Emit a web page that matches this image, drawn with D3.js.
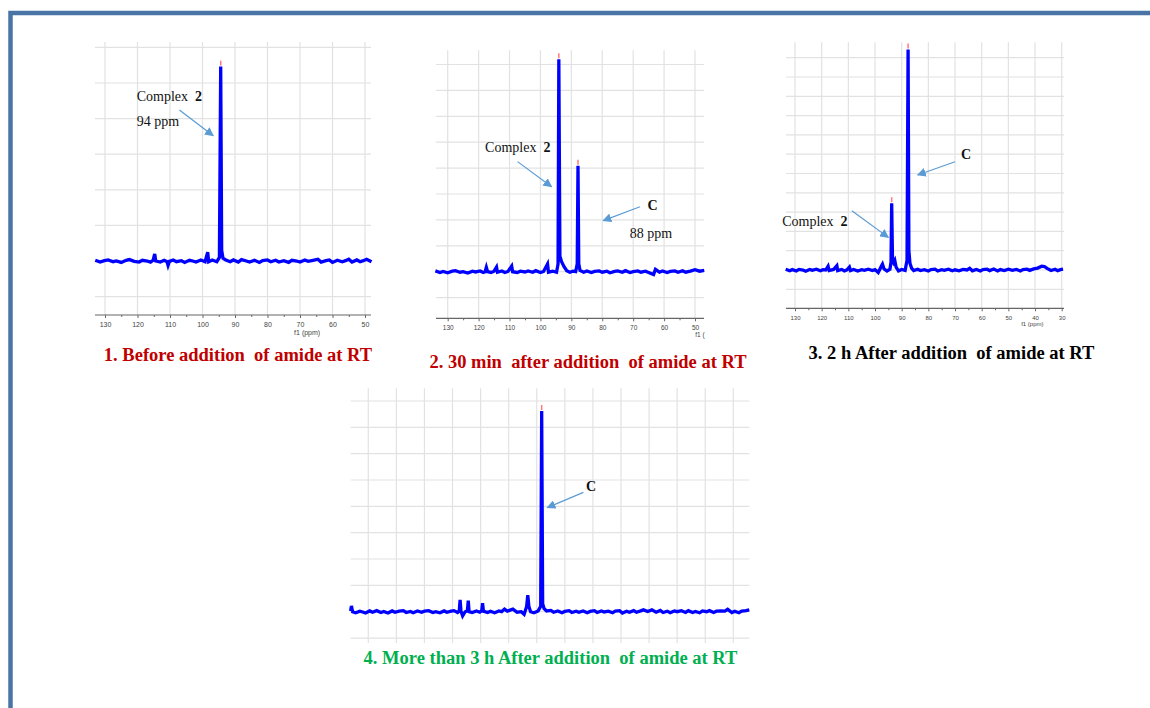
<!DOCTYPE html>
<html>
<head>
<meta charset="utf-8">
<script src="https://cdn.jsdelivr.net/npm/d3@7"></script>
<style>
  body { margin: 0; background: #fff; }
  svg text { white-space: pre; }
</style>
</head>
<body>
<div id="chart"></div>
<script>
// spectra: [ppm, intensity] , intensity in grid rows above the baseline
var spec1 = [
  [133,0.02],[131.5,-0.03],[130.2,0.01],[129,0.03],[127.5,-0.02],[126.5,0.0],[125,-0.04],[123.5,0.02],
  [122.5,0.04],[121,-0.01],[119.5,-0.03],[118.5,0.02],[117,0.0],[116,-0.03],[115.2,0.02],[114.7,0.2],
  [114.4,0.0],[113,-0.03],[111.8,0.02],[110.9,-0.02],[110.6,-0.12],[110.2,-0.01],[109,0.03],[108,-0.02],
  [106.5,0.01],[105.5,-0.04],[104,0.02],[103,0.0],[102,-0.03],[100.5,0.03],[99.2,-0.02],[98.4,0.25],
  [98.1,-0.02],[97,0.03],[95.6,-0.02],[94.8,0.1],[94.4,5.46],[94.1,0.3],[93.7,0.08],[92.8,0.03],
  [91.5,-0.02],[90.5,0.03],[89,-0.03],[88,0.04],[86.5,0.0],[85.5,-0.03],[84,0.02],[82.5,-0.04],
  [81.5,0.01],[80,0.03],[79,-0.02],[77.5,0.02],[76.5,-0.03],[75,0.01],[73.5,-0.04],[72.5,0.02],
  [71,0.0],[70,-0.03],[68.5,0.03],[67.5,-0.01],[66,0.02],[64.5,0.05],[63.5,-0.03],[62,0.01],
  [61,0.03],[60,-0.04],[58.5,0.02],[57,-0.02],[56,0.01],[55,0.05],[54,-0.03],[52.5,0.03],
  [51.5,-0.02],[50.5,0.01],[49.5,0.05],[48,-0.02]
];
var spec2 = [
  [134,0.03],[132.5,-0.03],[131.5,0.01],[130,-0.04],[128.5,0.02],[127.5,0.04],[126,-0.02],[125,0.0],
  [123.5,-0.05],[122,0.02],[121,-0.01],[119.5,0.03],[118.5,-0.03],[117.9,0.0],[117.5,0.17],[117.1,0.0],
  [116,-0.03],[115,0.02],[114.2,0.18],[113.9,-0.02],[112.5,0.03],[111.5,-0.03],[110.5,0.01],[109.3,0.22],
  [109,0.0],[107.5,-0.03],[106.5,0.02],[105,-0.01],[104,0.03],[102.5,-0.02],[101.5,0.04],[100,-0.03],
  [99,0.01],[97.7,0.3],[97.4,-0.02],[96,0.02],[94.8,-0.02],[94.3,0.3],[94.05,8.2],[93.7,0.6],
  [93.2,0.4],[92.4,0.2],[91.5,0.04],[90.5,-0.02],[89.5,0.02],[88.6,0.0],[88.1,0.3],[87.85,4.09],
  [87.6,0.3],[87.2,0.05],[86,-0.02],[85,0.03],[83.5,-0.03],[82.5,0.01],[81,0.03],[80,-0.02],
  [78.5,0.02],[77.5,-0.04],[76,0.01],[75,0.03],[73.5,-0.02],[72.5,0.04],[71,-0.03],[70,0.0],
  [68.5,0.03],[67.5,-0.02],[66,0.02],[65,-0.03],[63.4,-0.11],[62.8,0.09],[61.5,-0.02],[60.5,0.03],
  [59,-0.03],[58,0.01],[56.5,0.03],[55.5,-0.02],[54,0.04],[53,-0.02],[51.5,0.02],[50,0.08],
  [48.5,0.02],[47,0.05]
];
var spec3 = [
  [133.5,0.04],[132,-0.04],[131,0.02],[129.5,-0.05],[128.5,0.03],[127,0.0],[126,-0.06],[124.5,0.03],
  [123.5,-0.02],[122,0.04],[120.5,-0.04],[119.5,0.02],[118.5,0.0],[117.6,0.2],[117.2,-0.03],[115.5,0.03],
  [114.3,0.22],[114,-0.03],[112.5,0.03],[111.5,-0.05],[110.5,0.01],[109.6,0.15],[109.2,-0.03],[108,0.03],
  [106.5,-0.05],[105,0.02],[104,-0.02],[102.5,0.04],[101,-0.03],[100,0.02],[98.8,-0.13],[97.6,0.2],
  [97.2,0.3],[96.6,0.05],[95.5,-0.05],[94.4,0.04],[94.0,0.4],[93.75,3.46],[93.45,0.6],[93.0,0.4],
  [92.6,0.5],[92.1,0.15],[91.2,-0.05],[90,0.03],[88.7,-0.02],[88.0,0.5],[87.6,11.43],[87.3,1.0],
  [86.9,0.35],[86.3,0.1],[85.5,-0.03],[84,0.04],[83,-0.03],[81.5,0.02],[80,-0.05],[79,0.02],
  [77.5,0.04],[76.5,-0.05],[75,0.02],[74,-0.02],[72.5,0.04],[71,-0.04],[70,0.01],[68.5,-0.04],
  [67,0.03],[65.5,0.0],[64.5,0.09],[63.5,-0.04],[62,0.03],[60.5,-0.05],[59.5,0.02],[58,0.04],
  [57,-0.03],[55.5,0.05],[54,-0.05],[53,0.02],[51.5,-0.03],[50,0.04],[48.5,-0.02],[47,0.03],
  [45.5,-0.05],[44.5,0.02],[43,0.04],[42,-0.02],[40.5,0.06],[39,0.1],[37.5,0.2],[36.5,0.18],
  [35.5,0.08],[34,-0.03],[32.5,0.04],[31.5,-0.04],[30.5,0.02],[29.5,0.04]
];
var spec4 = [
  [156.3,0.03],[156,0.22],[155.6,0.0],[154.5,-0.04],[153,0.02],[152,-0.01],[151,-0.05],[149.5,0.03],
  [148.5,-0.02],[147,0.04],[145.5,-0.03],[144.5,0.01],[143,-0.05],[141.5,0.03],[140.5,-0.02],[139,0.02],
  [137.5,0.04],[136.5,-0.03],[135,0.01],[134,-0.04],[132.5,0.03],[131,-0.02],[130,0.02],[128.5,0.04],
  [127,-0.03],[126,0.0],[124.5,-0.04],[123,0.03],[122,-0.02],[120.5,0.02],[119.5,0.04],[118.2,-0.03],
  [117.6,0.03],[117.3,0.45],[117.0,0.02],[116.4,-0.16],[115.5,0.0],[114.7,0.04],[114.4,0.42],[114.1,0.0],
  [113,-0.03],[111.5,0.03],[110.3,-0.02],[109.6,0.04],[109.3,0.32],[109.0,0.02],[107.5,-0.03],[106.5,0.02],
  [105,-0.04],[103.5,0.03],[102.5,0.0],[101.5,0.1],[100.5,0.02],[99.5,0.06],[98.5,0.1],[97,-0.02],
  [95.5,0.0],[94.5,-0.1],[93.6,0.2],[93.2,0.63],[92.8,0.2],[92.2,0.0],[91,-0.04],[89.5,0.03],
  [88.6,0.2],[88.25,7.62],[87.9,0.3],[87.4,0.12],[86.5,0.03],[85,0.05],[84,-0.02],[82.5,0.03],
  [81,-0.04],[80,0.01],[78.5,0.04],[77.5,-0.03],[76,0.02],[75,-0.02],[73.5,0.03],[72,-0.04],
  [71,0.01],[69.5,0.04],[68.5,-0.03],[67,0.03],[66,-0.01],[64.5,0.02],[63,-0.04],[62,0.02],
  [60.5,0.04],[59.5,-0.05],[58,0.02],[57,-0.02],[55.5,0.04],[54.5,-0.02],[53,0.03],[52,0.07],
  [50.5,0.01],[49,0.07],[47.5,-0.02],[46,0.05],[45,-0.03],[43.5,0.02],[42.5,-0.04],[41,0.03],
  [40,0.0],[38.5,0.04],[37,-0.03],[36,0.04],[34.5,-0.03],[33.5,0.01],[32,-0.04],[31,0.03],
  [29.5,0.0],[28.5,0.04],[27,-0.03],[26,0.02],[24.5,0.03],[23,0.02],[22,0.09],[20.5,-0.03],
  [19.5,0.02],[18,-0.04],[17,0.02],[15.5,0.04],[14.3,0.07]
];

// peak picks (red marks)
var marks1 = [94.4];
var marks2 = [94.05, 87.85];
var marks3 = [93.75, 87.6];
var marks4 = [88.25];

// tick labels
var ticks1 = [130,120,110,100,90,80,70,60,50];
var ticks2 = [130,120,110,100,90,80,70,60,50];
var ticks3 = [130,120,110,100,90,80,70,60,50,40,30];
var grid4 = [150,140,130,120,110,100,90,80,70,60,50,40,30,20];

// annotations
var notes1 = [
  {text: "Complex  ", bold: "2", at: [120.25, 4.49]},
  {text: "94 ppm", at: [120.25, 3.79]},
  {arrow: [[107.1, 4.24], [96.7, 3.52]]}
];
var notes2 = [
  {text: "Complex  ", bold: "2", at: [117.9, 4.63]},
  {arrow: [[107.4, 4.25], [96.4, 3.28]]},
  {bold: "C", at: [65.4, 2.38]},
  {arrow: [[67.8, 2.51], [79.7, 1.97]]},
  {text: "88 ppm", at: [71.1, 1.31]}
];
var notes3 = [
  {bold: "C", at: [67.75, 5.73]},
  {arrow: [[70, 5.61], [84, 4.92]]},
  {text: "Complex  ", bold: "2", at: [134.8, 2.28]},
  {arrow: [[108.7, 3.07], [95, 1.69]]}
];
var notes4 = [
  {bold: "C", at: [72.5, 4.58]},
  {arrow: [[73.4, 4.53], [86.25, 3.95]]}
];

var titles = [
  "1. Before addition  of amide at RT",
  "2. 30 min  after addition  of amide at RT",
  "3. 2 h After addition  of amide at RT",
  "4. More than 3 h After addition  of amide at RT"
];

var panels = [
  {spec: spec1, marks: marks1, ticks: ticks1, notes: notes1, title: titles[0], color: "#c00000",
   xd: [130, 50], xr: [105, 365], left: 95, right: 371, top: 42, bottom: 315,
   base: 261, unit: 35.6, rows: [-1, 6], axis: true, fs: 7, xlab: "f1 (ppm)", xlabAt: [67.8, 335],
   tpos: [238, 361]},
  {spec: spec2, marks: marks2, ticks: ticks2, notes: notes2, title: titles[1], color: "#c00000",
   xd: [130, 50], xr: [447.7, 695], left: 436, right: 704, top: 50.3, bottom: 318.3,
   base: 271.7, unit: 25.9, rows: [-1, 8], axis: true, fs: 6.5, xlab: "f1 (", xlabAt: [48.4, 337],
   tpos: [588, 368]},
  {spec: spec3, marks: marks3, ticks: ticks3, notes: notes3, title: titles[2], color: "#000000",
   xd: [130, 30], xr: [795, 1061.7], left: 786, right: 1064, top: 42.3, bottom: 308.3,
   base: 270, unit: 19.3, rows: [-1, 11], axis: true, fs: 6, xlab: "f1 (ppm)", xlabAt: [41, 326],
   tpos: [951.5, 359]},
  {spec: spec4, marks: marks4, ticks: grid4, notes: notes4, title: titles[3], color: "#00b050",
   xd: [150, 20], xr: [368.3, 733.3], left: 350.7, right: 749.3, top: 388.3, bottom: 643,
   base: 611.7, unit: 26.34, rows: [-1, 8], axis: false,
   tpos: [550.5, 664]}
];

var svg = d3.select("#chart").append("svg")
  .attr("width", 1150)
  .attr("height", 708);

// frame
svg.append("rect")
  .attr("x", 10.5).attr("y", 13)
  .attr("width", 1300).attr("height", 900)
  .attr("fill", "none")
  .attr("stroke", "#4a74a6")
  .attr("stroke-width", 4.5);

svg.append("defs").append("marker")
  .attr("id", "head")
  .attr("viewBox", "0 0 10 10")
  .attr("refX", 9).attr("refY", 5)
  .attr("markerWidth", 9).attr("markerHeight", 9)
  .attr("markerUnits", "userSpaceOnUse")
  .attr("orient", "auto")
  .append("path")
  .attr("d", "M0,0 L10,5 L0,10 z")
  .attr("fill", "#5b9bd5");

panels.forEach(function(p) {
  var x = d3.scaleLinear().domain(p.xd).range(p.xr);
  var y = d3.scaleLinear().domain([0, 1]).range([p.base, p.base - p.unit]);
  var g = svg.append("g");

  // grid
  g.selectAll(".hg")
    .data(d3.range(p.rows[0], p.rows[1] + 1))
    .enter().append("line")
    .attr("x1", p.left).attr("x2", p.right)
    .attr("y1", function(d) { return y(d); })
    .attr("y2", function(d) { return y(d); })
    .attr("stroke", "#e2e2e2").attr("stroke-width", 1.2);

  g.selectAll(".vg")
    .data(p.ticks)
    .enter().append("line")
    .attr("x1", function(d) { return x(d); })
    .attr("x2", function(d) { return x(d); })
    .attr("y1", p.top).attr("y2", p.bottom)
    .attr("stroke", "#e2e2e2").attr("stroke-width", 1.2);

  // axis
  if (p.axis) {
    var ax = g.append("g").attr("transform", "translate(0," + p.bottom + ")");
    var minor = p.ticks.slice(1).map(function(d) { return d + 5; });
    ax.append("g")
      .call(d3.axisBottom(x).tickValues(minor).tickSize(2).tickFormat(""))
      .call(function(s) { s.select(".domain").remove(); });
    ax.append("g")
      .call(d3.axisBottom(x).tickValues(p.ticks).tickSize(3).tickPadding(4).tickFormat(d3.format("d")))
      .call(function(s) { s.select(".domain").remove(); });
    ax.selectAll("line").attr("stroke", "#666");
    ax.selectAll("text")
      .attr("font-family", "Liberation Sans, Arial, sans-serif")
      .attr("font-size", p.fs)
      .attr("fill", "#444");
    ax.append("line")
      .attr("x1", p.left).attr("x2", p.right)
      .attr("stroke", "#666").attr("stroke-width", 1.2);
    g.append("text")
      .attr("x", x(p.xlabAt[0])).attr("y", p.xlabAt[1])
      .attr("text-anchor", "middle")
      .attr("font-family", "Liberation Sans, Arial, sans-serif")
      .attr("font-size", p.fs)
      .attr("fill", "#444")
      .text(p.xlab);
  }

  // spectrum
  var line = d3.line()
    .x(function(d) { return x(d[0]); })
    .y(function(d) { return y(d[1]); });

  g.append("path")
    .datum(p.spec)
    .attr("d", line)
    .attr("fill", "none")
    .attr("stroke", "#0000ff")
    .attr("stroke-width", 3.3)
    .attr("stroke-linejoin", "miter");

  // peak picks
  p.marks.forEach(function(m) {
    var pt = p.spec.find(function(d) { return d[0] === m; });
    g.append("line")
      .attr("x1", x(m)).attr("x2", x(m))
      .attr("y1", y(pt[1]) - 1).attr("y2", y(pt[1]) - 6)
      .attr("stroke", "#ff7a7a").attr("stroke-width", 1.5);
  });

  // annotations
  p.notes.forEach(function(n) {
    if (n.arrow) {
      g.append("line")
        .attr("x1", x(n.arrow[0][0])).attr("y1", y(n.arrow[0][1]))
        .attr("x2", x(n.arrow[1][0])).attr("y2", y(n.arrow[1][1]))
        .attr("stroke", "#5b9bd5").attr("stroke-width", 1.2)
        .attr("marker-end", "url(#head)");
      return;
    }
    var t = g.append("text")
      .attr("x", x(n.at[0])).attr("y", y(n.at[1]))
      .attr("font-family", "Liberation Serif, Times New Roman, serif")
      .attr("font-size", 14)
      .attr("fill", "#111");
    if (n.text) t.append("tspan").text(n.text);
    if (n.bold) t.append("tspan").attr("font-weight", "bold").text(n.bold);
  });

  // title
  svg.append("text")
    .attr("x", p.tpos[0]).attr("y", p.tpos[1])
    .attr("text-anchor", "middle")
    .attr("font-family", "Liberation Serif, Times New Roman, serif")
    .attr("font-weight", "bold")
    .attr("font-size", 18.5)
    .attr("fill", p.color)
    .text(p.title);
});
</script>
</body>
</html>
